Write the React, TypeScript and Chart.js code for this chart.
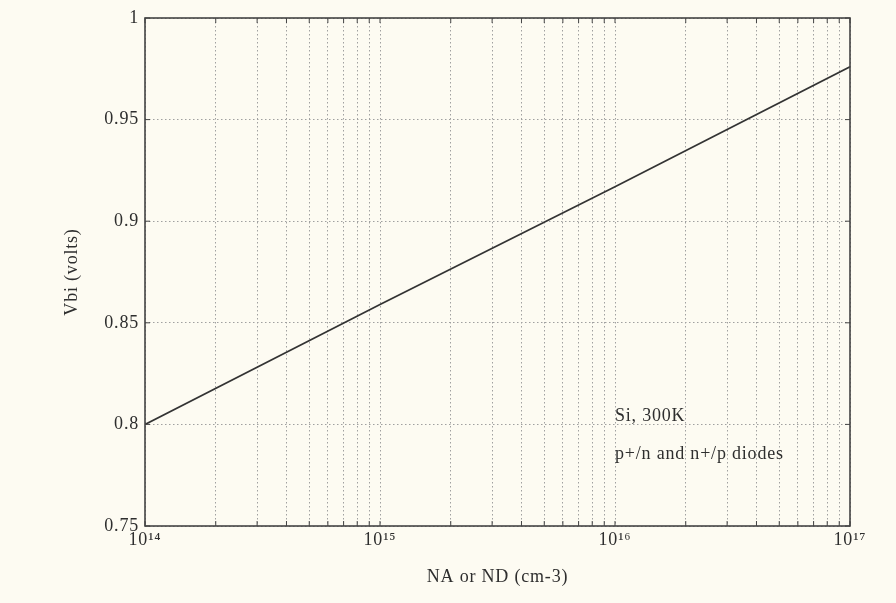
import React, { useEffect, useRef } from "react";
import { Chart, registerables } from "chart.js";

Chart.register(...registerables);

// Data
const dopingConcentration = [1e14, 1e15, 1e16, 1e17];
const builtInVoltage = [0.8, 0.859, 0.917, 0.976];

// Axes
const xDecades = [1e14, 1e15, 1e16, 1e17];
const xDecadeLabels = ["10¹⁴", "10¹⁵", "10¹⁶", "10¹⁷"];
const minorMultipliers = [1, 2, 3, 4, 5, 6, 7, 8, 9];
const yMin = 0.75;
const yMax = 1;
const yStep = 0.05;

// Annotations (data coordinates)
const noteTexts = ["Si, 300K", "p+/n and n+/p diodes"];
const noteX = [1e16, 1e16];
const noteY = [0.8015, 0.783];

const xTitle = "NA or ND (cm-3)";
const yTitle = "Vbi (volts)";

const BG = "#fdfbf2";
const FONT = "'Liberation Serif', 'Times New Roman', serif";
const TEXT = "#2e2e2e";
const FS = 18;

export default function App() {
  const ref = useRef<HTMLCanvasElement | null>(null);

  useEffect(() => {
    if (!ref.current) return;

    const spacing = {
      id: "spacing",
      beforeLayout(chart: any) {
        chart.ctx.letterSpacing = "0.8px";
      },
      beforeDraw(chart: any) {
        const ctx = chart.ctx;
        ctx.save();
        ctx.fillStyle = BG;
        ctx.fillRect(0, 0, chart.width, chart.height);
        ctx.restore();
        ctx.letterSpacing = "0.8px";
      },
      afterDraw(chart: any) {
        const ctx = chart.ctx;
        const { left, right, top, bottom } = chart.chartArea;
        const xs = chart.scales.x;
        const ys = chart.scales.y;
        ctx.save();
        ctx.strokeStyle = "#444";
        ctx.lineWidth = 1.6;
        ctx.strokeRect(left, top, right - left, bottom - top);
        ctx.lineWidth = 1;
        ctx.strokeStyle = "#444";
        xs.ticks.forEach((t: any) => {
          const px = xs.getPixelForValue(t.value);
          ctx.beginPath();
          ctx.moveTo(px, bottom);
          ctx.lineTo(px, bottom - 5);
          ctx.moveTo(px, top);
          ctx.lineTo(px, top + 5);
          ctx.stroke();
        });
        ys.ticks.forEach((t: any) => {
          const py = ys.getPixelForValue(t.value);
          ctx.beginPath();
          ctx.moveTo(left, py);
          ctx.lineTo(left + 5, py);
          ctx.moveTo(right, py);
          ctx.lineTo(right - 5, py);
          ctx.stroke();
        });
        ctx.fillStyle = TEXT;
        ctx.font = `${FS}px ${FONT}`;
        ctx.textAlign = "left";
        ctx.textBaseline = "alphabetic";
        noteTexts.forEach((txt, i) => {
          ctx.fillText(txt, xs.getPixelForValue(noteX[i]), ys.getPixelForValue(noteY[i]));
        });
        ctx.restore();
      },
    };

    const chart = new Chart(ref.current, {
      type: "line",
      data: {
        datasets: [
          {
            data: dopingConcentration.map((x, i) => ({ x, y: builtInVoltage[i] })),
            borderColor: "#333333",
            borderWidth: 1.7,
            pointRadius: 0,
            tension: 0,
          },
        ],
      },
      options: {
        animation: false,
        responsive: true,
        maintainAspectRatio: false,
        layout: { padding: { left: 0, top: 18, right: 46, bottom: 0 } },
        plugins: {
          legend: { display: false },
          tooltip: { enabled: false },
        },
        scales: {
          x: {
            type: "logarithmic",
            min: xDecades[0],
            max: xDecades[xDecades.length - 1],
            afterBuildTicks(scale: any) {
              const ticks: any[] = [];
              xDecades.forEach((d, i) => {
                if (i === xDecades.length - 1) {
                  ticks.push({ value: d });
                } else {
                  minorMultipliers.forEach((m) => ticks.push({ value: d * m }));
                }
              });
              scale.ticks = ticks;
            },
            afterFit(scale: any) {
              scale.height = 77;
            },
            ticks: {
              autoSkip: false,
              maxRotation: 0,
              padding: 3,
              color: TEXT,
              font: { family: FONT, size: FS },
              callback(value: any) {
                const idx = xDecades.findIndex((d) => Math.abs(d - Number(value)) / d < 1e-6);
                return idx >= 0 ? xDecadeLabels[idx] : "";
              },
            },
            grid: {
              color: "#a0a0a0",
              lineWidth: 1,
              drawTicks: false,
            },
            border: { display: false, dash: [1.5, 2.5] },
            title: {
              display: true,
              text: xTitle,
              color: TEXT,
              font: { family: FONT, size: FS },
              padding: { top: 0, bottom: 15 },
            },
          },
          y: {
            type: "linear",
            min: yMin,
            max: yMax,
            afterFit(scale: any) {
              scale.width = 145;
            },
            ticks: {
              stepSize: yStep,
              padding: 6,
              color: TEXT,
              font: { family: FONT, size: FS },
              callback(value: any) {
                return String(Number(Number(value).toFixed(2)));
              },
            },
            grid: {
              color: "#a0a0a0",
              lineWidth: 1,
              drawTicks: false,
            },
            border: { display: false, dash: [1.5, 2.5] },
            title: {
              display: true,
              text: yTitle,
              color: TEXT,
              font: { family: FONT, size: FS },
              padding: { top: 61, bottom: 0 },
            },
          },
        },
      },
      plugins: [spacing],
    } as any);

    return () => chart.destroy();
  }, []);

  return (
    <div style={{ position: "absolute", left: 0, top: 0, width: 896, height: 603, background: BG }}>
      <canvas ref={ref} />
    </div>
  );
}
